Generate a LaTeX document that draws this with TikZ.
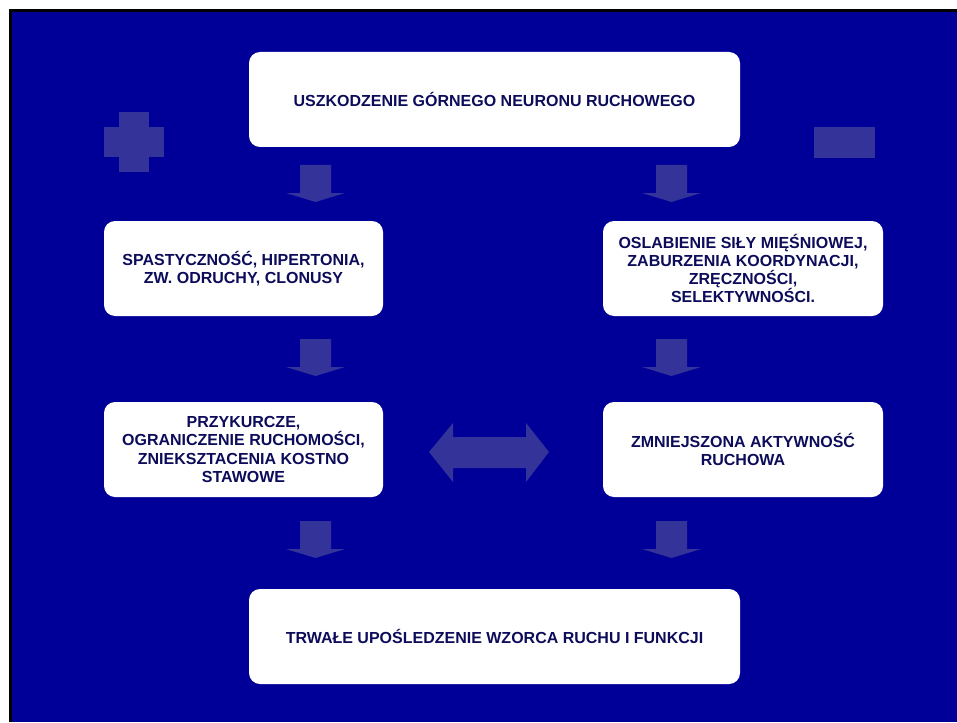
\documentclass[tikz,border=0pt]{standalone}
\usepackage{fontspec}
\setmainfont{Liberation Sans}
\definecolor{bgblue}{RGB}{0,0,153}
\definecolor{shapeblue}{RGB}{51,51,153}
\definecolor{txtblue}{RGB}{12,12,90}
\begin{document}
\begin{tikzpicture}[x=1pt,y=-1pt,
  box/.style={draw=none,fill=white,rounded corners=11pt,align=center,
    font=\fontsize{16}{18.2}\selectfont\bfseries,text=txtblue,inner sep=0pt},
  sym/.style={fill=shapeblue,draw=none}]
\useasboundingbox (0,0) rectangle (957,722);
\fill[white] (0,0) rectangle (957,722);
\fill[black] (9,9) rectangle (957,722);
\fill[bgblue] (12,12) rectangle (957,722);
% boxes
\node[box,minimum width=491pt,minimum height=95pt] (top) at (494.5,99.5) {USZKODZENIE GÓRNEGO NEURONU RUCHOWEGO};
\node[box,minimum width=279pt,minimum height=95pt] (ml) at (243.5,268.5) {SPASTYCZNOŚĆ, HIPERTONIA,\\ZW. ODRUCHY, CLONUSY};
\node[box,minimum width=280pt,minimum height=95pt] (mr) at (743,268.5) {OSLABIENIE SIŁY MIĘŚNIOWEJ,\\ZABURZENIA KOORDYNACJI,\\ZRĘCZNOŚCI,\\SELEKTYWNOŚCI.};
\node[box,minimum width=279pt,minimum height=95pt] (ll) at (243.5,449.5) {PRZYKURCZE,\\OGRANICZENIE RUCHOMOŚCI,\\ZNIEKSZTACENIA KOSTNO\\STAWOWE};
\node[box,minimum width=280pt,minimum height=95pt] (lr) at (743,449.5) {ZMNIEJSZONA AKTYWNOŚĆ\\RUCHOWA};
\node[box,minimum width=491pt,minimum height=95pt] (bot) at (494.5,636.5) {TRWAŁE UPOŚLEDZENIE WZORCA RUCHU I FUNKCJI};
% plus and minus
\fill[sym] (119,112) rectangle (149,172);
\fill[sym] (104,127) rectangle (119,157);
\fill[sym] (149,127) rectangle (164,157);
\fill[sym] (814,127) rectangle (875,158);
% down arrows
\foreach \cx/\ty in {315.5/165,671.5/165,315.5/339,671.5/339,315.5/521,671.5/521}{
  \fill[sym] (\cx-15.5,\ty) -- (\cx+15.5,\ty) -- (\cx+15.5,\ty+28) -- (\cx+29.5,\ty+28)
    -- (\cx,\ty+37) -- (\cx-29.5,\ty+28) -- (\cx-15.5,\ty+28) -- cycle;
}
% double arrow
\fill[sym] (429,452) -- (453,423) -- (453,437) -- (526,437) -- (526,423) -- (549,452)
  -- (526,482) -- (526,468) -- (453,468) -- (453,482) -- cycle;
\end{tikzpicture}
\end{document}
